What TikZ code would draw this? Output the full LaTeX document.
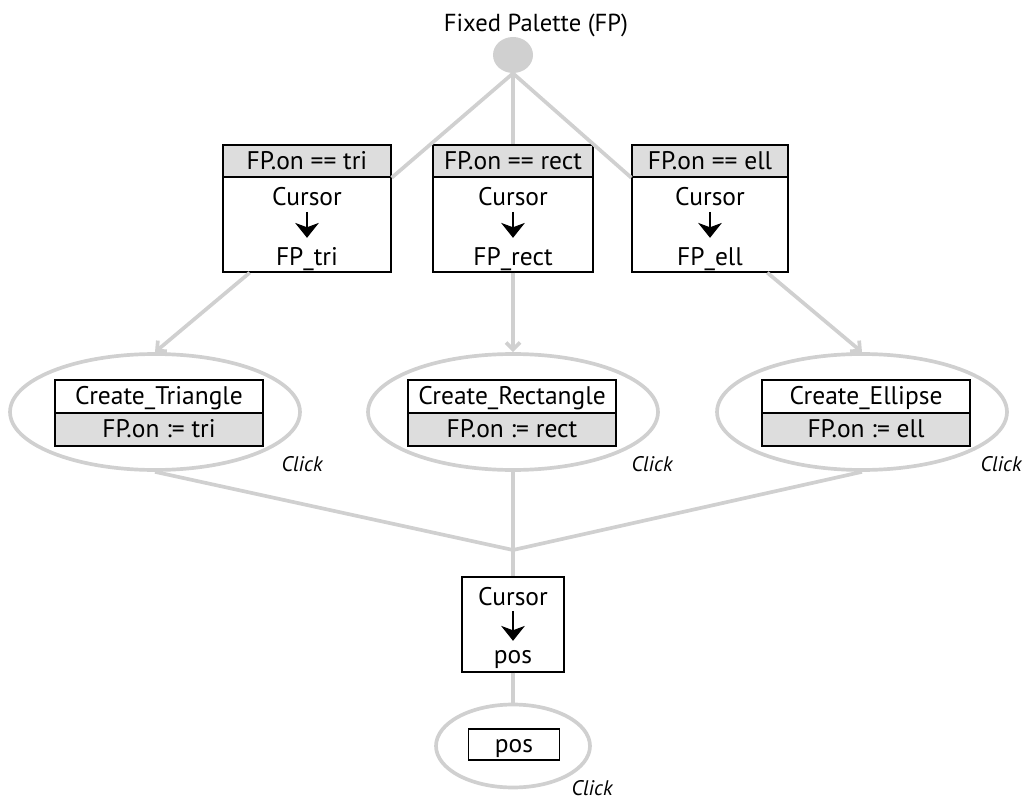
\documentclass[tikz,border=0pt]{standalone}
\usepackage{fontspec}
\setmainfont{PT Sans}
\usetikzlibrary{shapes.geometric,arrows.meta}

\definecolor{linegray}{RGB}{208,208,208}
\definecolor{boxgray}{RGB}{221,221,221}

\tikzset{
  conn/.style={draw=linegray, line width=2.1pt},
  into/.style={conn, -{Straight Barb[length=4pt,width=8pt]}},
  hdr/.style={draw, fill=boxgray, line width=0.8pt, inner sep=0pt, minimum height=0.64cm, text height=9.6pt, text depth=0pt},
  body/.style={draw, fill=white, line width=0.8pt, minimum height=1.9cm},
  row/.style={draw, line width=0.8pt, minimum width=4.16cm, minimum height=0.66cm, inner sep=0pt, text height=9.6pt, text depth=0pt},
  oval/.style={ellipse, draw=linegray, line width=2.1pt, minimum width=5.8cm, minimum height=2.32cm},
  lbl/.style={inner sep=0pt, anchor=base},
  click/.style={inner sep=0pt, anchor=base, font=\itshape\fontsize{12}{14}\selectfont},
  curarr/.style={-{Stealth[length=8.5pt,width=13.5pt,inset=2.5pt]}, line width=0.6pt, shorten <=3pt, shorten >=5pt},
}

\begin{document}
\begin{tikzpicture}[x=0.02cm, y=-0.02cm, font=\fontsize{14.5}{17}\selectfont]
    \useasboundingbox (0,0) rectangle (1024,804);

    % palette
    \node[lbl, font=\fontsize{14}{17}\selectfont] (title) at (536,32) {Fixed Palette (FP)};
    \node[ellipse, fill=linegray, minimum width=0.8cm, minimum height=0.72cm, inner sep=0pt] (fp) at (513,55) {};

    % guarded cursor boxes
    \node[hdr, minimum width=3.36cm] (h1) at (307,161) {FP.on == tri};
    \node[body, minimum width=3.36cm] (b1) at (307,224.5) {};
    \node[lbl] (c1) at (307,206) {Cursor};
    \node[lbl] (t1) at (307,265) {FP\_tri};

    \node[hdr, minimum width=3.2cm] (h2) at (513,161) {FP.on == rect};
    \node[body, minimum width=3.2cm] (b2) at (513,224.5) {};
    \node[lbl] (c2) at (513,206) {Cursor};
    \node[lbl] (t2) at (513,265) {FP\_rect};

    \node[hdr, minimum width=3.12cm] (h3) at (710,161) {FP.on == ell};
    \node[body, minimum width=3.12cm] (b3) at (710,224.5) {};
    \node[lbl] (c3) at (710,206) {Cursor};
    \node[lbl] (t3) at (710,265) {FP\_ell};

    \draw[curarr] (c1.south) -- (t1.north);
    \draw[curarr] (c2.south) -- (t2.north);
    \draw[curarr] (c3.south) -- (t3.north);

    % create states
    \node[oval] (e1) at (155,412) {};
    \node[row] (r1) at (159,396.5) {Create\_Triangle};
    \node[row, fill=boxgray] (s1) at (159,429.5) {FP.on := tri};
    \node[click] at (302,471) {Click};

    \node[oval] (e2) at (513,412) {};
    \node[row] (r2) at (512,396.5) {Create\_Rectangle};
    \node[row, fill=boxgray] (s2) at (512,429.5) {FP.on := rect};
    \node[click] at (652,471) {Click};

    \node[oval] (e3) at (862,412) {};
    \node[row] (r3) at (866,396.5) {Create\_Ellipse};
    \node[row, fill=boxgray] (s3) at (866,429.5) {FP.on := ell};
    \node[click] at (1001,471) {Click};

    % position
    \node[body, minimum width=2.04cm] (cur) at (513,624.5) {};
    \node[lbl] (c4) at (513,605) {Cursor};
    \node[lbl] (t4) at (513,663) {pos};
    \draw[curarr] (c4.south) -- (t4.north);

    \node[oval, minimum width=3.08cm, minimum height=1.66cm] (e4) at (513,746) {};
    \node[row, minimum width=1.82cm, minimum height=0.62cm] (p4) at (514,744.5) {pos};
    \node[click] at (592,795) {Click};

    % connectors
    \coordinate (j) at (513,550);
    \draw[conn] (fp.south) -- (h1.south east);
    \draw[conn] (fp.south) -- (h2.north);
    \draw[conn] (fp.south) -- (h3.south west);

    \draw[into] (b1) -- (e1.north);
    \draw[into] (b2) -- (e2.north);
    \draw[into] (b3) -- (e3.north);

    \draw[conn] (e1.south) -- (j);
    \draw[conn] (e2.south) -- (j);
    \draw[conn] (e3.south) -- (j);
    \draw[conn] (j) -- (cur.north);
    \draw[conn] (cur.south) -- (e4.north);
\end{tikzpicture}
\end{document}
